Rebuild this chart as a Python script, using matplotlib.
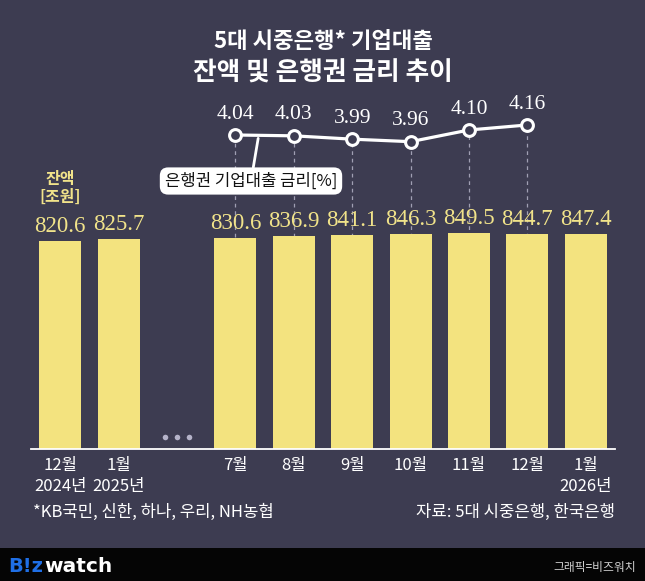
import numpy as np
import matplotlib
matplotlib.use("Agg")
import matplotlib.pyplot as plt
from matplotlib.patches import Rectangle

# ---- data ----
categories = ['12월\n2024년', '1월\n2025년', '', '7월', '8월', '9월', '10월', '11월', '12월', '1월\n2026년']
balance = [820.6, 825.7, np.nan, 830.6, 836.9, 841.1, 846.3, 849.5, 844.7, 847.4]
rate = [np.nan, np.nan, np.nan, 4.04, 4.03, 3.99, 3.96, 4.10, 4.16, np.nan]
gap_index = 2

title1 = '5대 시중은행* 기업대출'
title2 = '잔액 및 은행권 금리 추이'
unit_label = '잔액\n[조원]'
callout = '은행권 기업대출 금리[%]'
footnote = '*KB국민, 신한, 하나, 우리, NH농협'
source = '자료: 5대 시중은행, 한국은행'
credit = '그래픽=비즈워치'

# ---- style ----
BG = '#3d3c51'
BAR = '#f3e37f'
YEL = '#f1e38a'
KR = ['Noto Sans CJK KR', 'DejaVu Sans']
SERIF = ['Liberation Serif', 'DejaVu Serif']
plt.rcParams['font.family'] = KR

W, H = 645, 581
fig = plt.figure(figsize=(W / 100, H / 100), dpi=100, facecolor=BG)

left, right, base, top = 31, 615, 449, 100
ax = fig.add_axes([left / W, (H - base) / H, (right - left) / W, (base - top) / H])
ax.set_facecolor('none')
ax2 = ax.twinx()
ax2.set_facecolor('none')

x = np.arange(len(categories))
bal = np.array(balance, dtype=float)
rt = np.array(rate, dtype=float)

# rate axis (drawn first, below bars)
ax.set_xlim(-0.5, len(categories) - 0.5)
ax.set_ylim(0.280, 4.459)
mask_r = ~np.isnan(rt)
ax.vlines(x[mask_r], 0.3, rt[mask_r], colors='#a09fb3', linestyles=(0, (3, 3)), lw=0.9, zorder=1)
ax.plot(x[mask_r], rt[mask_r], color='white', lw=2.3, zorder=3,
        marker='o', ms=8.5, mfc=BG, mec='white', mew=2.2)
for xi, v in zip(x[mask_r], rt[mask_r]):
    ax.annotate(f'{v:.2f}', (xi, v), xytext=(0, 15), textcoords='offset points',
                ha='center', va='center', color='white', fontsize=15.5, family=SERIF, zorder=4)

# callout
ax.annotate(callout, xy=(3.39, 4.0), xycoords='data',
            xytext=(251, H - 181), textcoords='figure pixels',
            ha='center', va='center', fontsize=12, fontweight='medium', color='#111111', zorder=5,
            bbox=dict(boxstyle='round,pad=0.3,rounding_size=0.5', fc='white', ec='none'),
            arrowprops=dict(arrowstyle='-', color='white', lw=2, shrinkA=0, shrinkB=0))

# bars
ax2.set_ylim(0, (base - top) / 0.254)
mask_b = ~np.isnan(bal)
ax2.bar(x[mask_b], bal[mask_b], width=0.72, color=BAR, zorder=2)
for xi, v in zip(x[mask_b], bal[mask_b]):
    ax2.annotate(f'{v:.1f}', (xi, v), xytext=(0, 6.5), textcoords='offset points',
                 ha='center', va='baseline', color=YEL, fontsize=16.5, family=SERIF, zorder=4)

# gap dots
ax2.plot([gap_index - 0.2, gap_index, gap_index + 0.2], [47, 47, 47], 'o', ms=4,
         color='#b5b3c9', mec='none', zorder=3)

# unit label
ax2.annotate(unit_label, (x[0], bal[0]), xytext=(0, 38), textcoords='offset points',
             ha='center', va='center', color=YEL, fontsize=11.5, fontweight='bold', linespacing=1.15)

# axes cosmetics
for a in (ax, ax2):
    for s in ('top', 'left', 'right'):
        a.spines[s].set_visible(False)
    a.tick_params(left=False, right=False, labelleft=False, labelright=False)
ax.spines['bottom'].set_visible(False)
ax2.spines['bottom'].set_color('white')
ax2.spines['bottom'].set_linewidth(1.3)
ax.set_xticks(x[np.array([c != '' for c in categories])])
ax.set_xticklabels([c for c in categories if c != ''], color='white', fontsize=12,
                   fontweight='medium', linespacing=1.25)
ax.tick_params(axis='x', length=0, pad=6)
ax2.tick_params(axis='x', length=0, labelbottom=False)

# titles
fig.text(323 / W, 1 - 42 / H, title1, ha='center', va='center', color='white', fontsize=16, fontweight='heavy')
fig.text(323 / W, 1 - 73 / H, title2, ha='center', va='center', color='white', fontsize=18.5, fontweight='heavy')

# footer texts
fig.text(33 / W, 1 - 512 / H, footnote, ha='left', va='center', color='white', fontsize=12, fontweight='medium')
fig.text(615 / W, 1 - 512 / H, source, ha='right', va='center', color='white', fontsize=12, fontweight='medium')

# bottom black band
fig.patches.append(Rectangle((0, 0), 1, 33 / H, transform=fig.transFigure, fc='#050505', ec='none', zorder=0))
fig.text(8 / W, 1 - 567 / H, 'B!z', ha='left', va='center', color='#1f6fe6',
         fontsize=14, fontweight='bold', family=['DejaVu Sans'], zorder=2)
fig.text(44 / W, 1 - 567 / H, 'watch', ha='left', va='center', color='white',
         fontsize=14.5, fontweight='bold', family=['DejaVu Sans'], zorder=2)
fig.text(636 / W, 1 - 567 / H, credit, ha='right', va='center', color='#d0d0d0', fontsize=8.5, zorder=2)

fig.savefig('out.png', dpi=100, facecolor=BG)
